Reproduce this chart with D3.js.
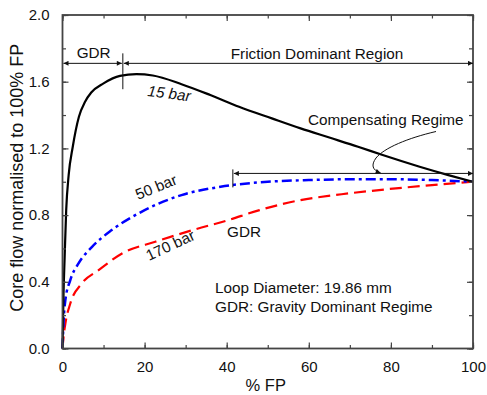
<!DOCTYPE html>
<html>
<head>
<meta charset="utf-8">
<script src="https://cdn.jsdelivr.net/npm/d3@7"></script>
<style>
  html, body { margin: 0; padding: 0; background: #fff; }
  svg text { font-family: "Liberation Sans", Arial, sans-serif; fill: #111; }
</style>
</head>
<body>
<svg id="chart" width="487" height="395"></svg>
<script>
// Core flow (normalised to 100% FP) versus % full power, three system pressures
const fp15   = [0, 0.25, 0.5, 0.9, 1.5, 2.5, 4, 5.5, 7, 10, 14, 18, 22, 29, 36, 43, 51, 58, 65, 72, 78, 87, 94, 100];
const core15 = [0, 0.33, 0.53, 0.83, 1.04, 1.21, 1.39, 1.48, 1.535, 1.59, 1.635, 1.645, 1.637, 1.585, 1.52, 1.45, 1.38, 1.32, 1.265, 1.21, 1.16, 1.09, 1.04, 1.0];

const fp50   = [0, 0.3, 0.7, 1.9, 3.9, 7.2, 12, 18.5, 29, 38.5, 50, 60, 70, 80, 90, 100];
const core50 = [0, 0.18, 0.29, 0.41, 0.51, 0.61, 0.71, 0.81, 0.92, 0.97, 1.0, 1.01, 1.015, 1.015, 1.01, 1.0];

const fp170   = [0, 0.3, 0.7, 1.9, 4.7, 8.8, 14.5, 22.6, 32.4, 39.7, 48, 58, 68, 79, 90, 100];
const core170 = [0, 0.08, 0.15, 0.27, 0.39, 0.47, 0.57, 0.64, 0.715, 0.765, 0.83, 0.89, 0.925, 0.955, 0.98, 1.0];

const xTicks = [0, 20, 40, 60, 80, 100];
const yTicks = [0.0, 0.4, 0.8, 1.2, 1.6, 2.0];

const svg = d3.select("#chart");
const L = 62.5, R = 473, T = 15, B = 348.5;

const x = d3.scaleLinear().domain([0, 100]).range([L, R]);
const y = d3.scaleLinear().domain([0, 2]).range([B, T]);

// arrowheads
const defs = svg.append("defs");
defs.append("marker")
  .attr("id", "arr").attr("viewBox", "0 0 10 10")
  .attr("refX", 10).attr("refY", 5)
  .attr("markerWidth", 7).attr("markerHeight", 5)
  .attr("markerUnits", "userSpaceOnUse")
  .attr("orient", "auto-start-reverse")
  .append("path").attr("d", "M0,0 L10,5 L0,10 z").attr("fill", "#111");

// series lines
const line = d3.line().x(d => x(d[0])).y(d => y(d[1])).curve(d3.curveMonotoneX);
const g = svg.append("g");

g.append("path").datum(fp170.map((v, i) => [v, core170[i]]))
  .attr("d", line).attr("fill", "none").attr("stroke", "#ff0000")
  .attr("stroke-width", 2.2).attr("stroke-dasharray", "12,6");

g.append("path").datum(fp50.map((v, i) => [v, core50[i]]))
  .attr("d", line).attr("fill", "none").attr("stroke", "#0000ff")
  .attr("stroke-width", 2.5).attr("stroke-dasharray", "10,4,3,4");

g.append("path").datum(fp15.map((v, i) => [v, core15[i]]))
  .attr("d", line).attr("fill", "none").attr("stroke", "#000")
  .attr("stroke-width", 2.2);

// axes with inward ticks on all four sides
const axisColor = "#444";
function styleAxis(sel) {
  sel.select(".domain").remove();
  sel.selectAll("line").attr("stroke", axisColor).attr("stroke-width", 1.2);
  sel.selectAll("text").style("font-size", "15px").attr("fill", "#111");
}
const xMinor = d3.range(0, 101, 10);
const yMinor = d3.range(0, 2.01, 0.2);

svg.append("g").attr("transform", `translate(0,${B})`)
  .call(d3.axisBottom(x).tickValues(xMinor).tickSize(-3.5).tickFormat(""))
  .call(styleAxis);
svg.append("g").attr("transform", `translate(0,${B})`)
  .call(d3.axisBottom(x).tickValues(xTicks).tickSize(-6).tickPadding(13).tickFormat(d3.format("d")))
  .call(styleAxis);
svg.append("g").attr("transform", `translate(0,${T})`)
  .call(d3.axisTop(x).tickValues(xMinor).tickSize(-3.5).tickFormat(""))
  .call(styleAxis);
svg.append("g").attr("transform", `translate(0,${T})`)
  .call(d3.axisTop(x).tickValues(xTicks).tickSize(-6).tickFormat(""))
  .call(styleAxis);

svg.append("g").attr("transform", `translate(${L},0)`)
  .call(d3.axisLeft(y).tickValues(yMinor).tickSize(-3.5).tickFormat(""))
  .call(styleAxis);
svg.append("g").attr("transform", `translate(${L},0)`)
  .call(d3.axisLeft(y).tickValues(yTicks).tickSize(-6).tickPadding(13).tickFormat(d3.format(".1f")))
  .call(styleAxis);
svg.append("g").attr("transform", `translate(${R},0)`)
  .call(d3.axisRight(y).tickValues(yMinor).tickSize(-4).tickFormat(""))
  .call(styleAxis);
svg.append("g").attr("transform", `translate(${R},0)`)
  .call(d3.axisRight(y).tickValues(yTicks).tickSize(-6).tickFormat(""))
  .call(styleAxis);

// frame
svg.append("rect").attr("x", L).attr("y", T).attr("width", R - L).attr("height", B - T)
  .attr("fill", "none").attr("stroke", axisColor).attr("stroke-width", 1.8);

// axis titles
svg.append("text").attr("x", (L + R) / 2 - 2).attr("y", 391)
  .attr("text-anchor", "middle").style("font-size", "16.5px").text("% FP");
svg.append("text").attr("transform", `translate(23,${(T + B) / 2 - 4}) rotate(-90)`)
  .attr("text-anchor", "middle").style("font-size", "18px").text("Core flow normalised to 100% FP");

// regime annotations
const ann = svg.append("g").attr("stroke", "#111").attr("stroke-width", 1).attr("fill", "none");
const yReg = y(1.71), xGdr = x(14.7);
ann.append("line").attr("x1", L + 1).attr("x2", xGdr - 1).attr("y1", yReg).attr("y2", yReg)
  .attr("marker-start", "url(#arr)").attr("marker-end", "url(#arr)");
ann.append("line").attr("x1", xGdr + 1).attr("x2", R).attr("y1", yReg).attr("y2", yReg)
  .attr("marker-start", "url(#arr)").attr("marker-end", "url(#arr)");
ann.append("line").attr("x1", xGdr).attr("x2", xGdr).attr("y1", y(1.77)).attr("y2", y(1.555));

const yComp = y(1.05), xComp = x(41.5);
ann.append("line").attr("x1", xComp + 1).attr("x2", R).attr("y1", yComp).attr("y2", yComp)
  .attr("marker-start", "url(#arr)").attr("marker-end", "url(#arr)");
ann.append("line").attr("x1", xComp).attr("x2", xComp).attr("y1", yComp - 4).attr("y2", yComp + 14);
ann.append("path")
  .attr("d", `M436,131.5 C408,138 384,148 376,158 C371,165 372,170 ${x(77.5)},${yComp - 0.5}`)
  .attr("marker-end", "url(#arr)");

const txt = (t, xx, yy, opts = {}) => {
  const e = svg.append("text").attr("x", xx).attr("y", yy).style("font-size", "15.3px").text(t);
  if (opts.anchor) e.attr("text-anchor", opts.anchor);
  if (opts.rotate) e.attr("transform", `rotate(${opts.rotate},${xx},${yy})`);
  if (opts.italic) e.style("font-style", "italic");
  return e;
};
txt("GDR", (L + xGdr) / 2 + 1, 58, { anchor: "middle" });
txt("Friction Dominant Region", 317, 59, { anchor: "middle" });
txt("Compensating Regime", 308, 125);
txt("15 bar", 147, 96, { rotate: 7, italic: true });
txt("50 bar", 138, 200, { rotate: -22 });
txt("170 bar", 149, 261, { rotate: -25 });
txt("GDR", 227, 237);
txt("Loop Diameter: 19.86 mm", 215, 293);
txt("GDR: Gravity Dominant Regime", 215, 312);
</script>
</body>
</html>
